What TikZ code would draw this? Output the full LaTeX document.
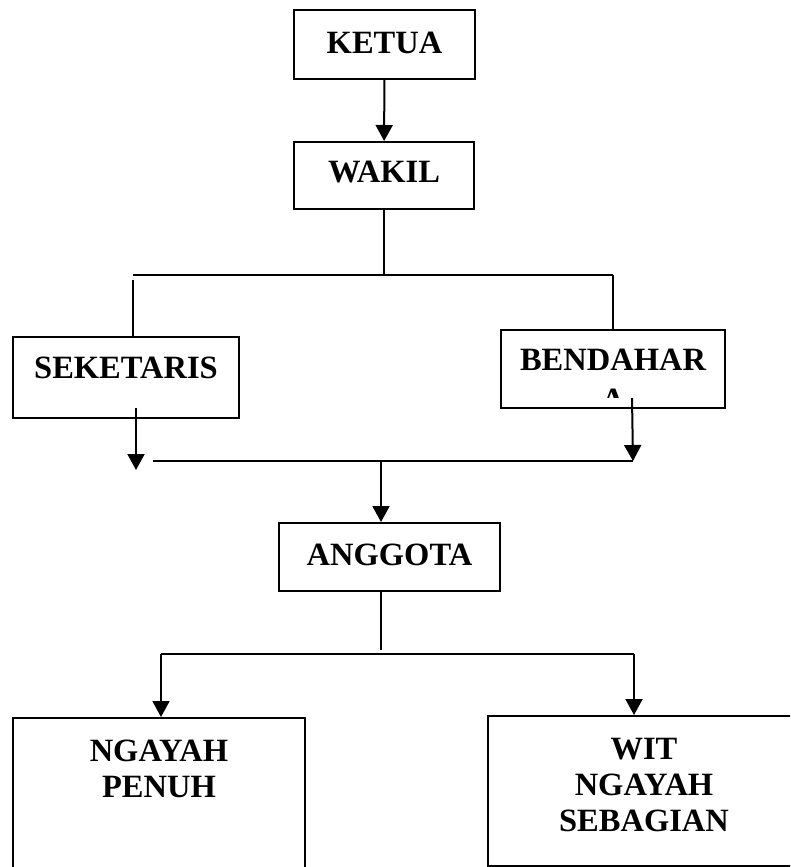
\documentclass[tikz,border=0pt]{standalone}
\usepackage{fontspec}
\setmainfont{Liberation Serif}
\usetikzlibrary{arrows.meta}

\begin{document}
\begin{tikzpicture}[x=1pt,y=-1pt,
		kotak/.style={draw,line width=2pt,inner sep=0pt,align=center,font=\fontsize{32.5}{36}\selectfont\bfseries},
		garis/.style={line width=1.5pt},
		tebal/.style={line width=2pt},
		panah/.style={line width=2pt,-{Triangle[width=17pt,length=16pt]}}]
					\clip (0,0) rectangle (790,867);
					
					%KOTAK
					\node[kotak,minimum width=181pt,minimum height=69pt,text depth=4pt] (ketua) at (384.5,44.5) {KETUA};
					\node[kotak,minimum width=180pt,minimum height=67pt,text depth=7pt] (wakil) at (384,175.5) {WAKIL};
					\node[kotak,minimum width=226pt,minimum height=81pt,text depth=19pt] (sek) at (126,377.5) {SEKETARIS};
					\node[kotak,minimum width=224pt,minimum height=78pt,text depth=18pt] (bend) at (613,369) {BENDAHAR};
					\begin{scope}
						\clip (501,330) rectangle (725,397);
						\node[kotak,draw=none,anchor=base] (bendA) at (613,410) {A};
					\end{scope}
					\node[kotak,minimum width=221pt,minimum height=68pt,text depth=5pt] (agt) at (389.5,557) {ANGGOTA};
					\node[kotak,anchor=north,minimum width=292pt,inner ysep=22pt,text depth=80pt] (penuh) at (159,717) {NGAYAH\\PENUH};
					\node[kotak,anchor=north,minimum width=312pt,inner ysep=22pt,text depth=13pt] (wit) at (644,715) {WIT\\NGAYAH\\SEBAGIAN};
					
					%CABANG
					\coordinate (h1kiri) at (133,275);
					\coordinate (h1kanan) at (613,275);
					\coordinate (h2kiri) at (153,461);
					\coordinate (h2kanan) at (633,461);
					\coordinate (h2tengah) at (381,461);
					\coordinate (ujungkiri) at (136,470);
					\coordinate (h3tengah) at (381,650);
					\coordinate (h3kiri) at (161,654);
					\coordinate (h3kanan) at (634,654);
					
					%GARIS
					\draw[panah] (ketua) -- (wakil);
					\draw[garis] (wakil.south) -- (wakil.south |- h1kiri);
					\draw[garis] (h1kiri) -- (h1kanan);
					\draw[garis] ([yshift=-5pt]h1kiri) -- (h1kiri |- sek.north);
					\draw[garis] (h1kanan) -- (bend.north);
					\draw[panah] ([xshift=10pt,yshift=11pt]sek.south) -- (ujungkiri);
					\draw[panah] ([xshift=19pt,yshift=11pt]bend.south) -- (h2kanan);
					\draw[tebal] (h2kiri) -- (h2kanan);
					\draw[panah] (h2tengah) -- (h2tengah |- agt.north);
					\draw[garis] (h2tengah |- agt.south) -- (h3tengah);
					\draw[tebal] (h3kiri) -- (h3kanan);
					\draw[panah] (h3kiri) -- (h3kiri |- penuh.north);
					\draw[panah] (h3kanan) -- (h3kanan |- wit.north);
				  \end{tikzpicture}
\end{document}
